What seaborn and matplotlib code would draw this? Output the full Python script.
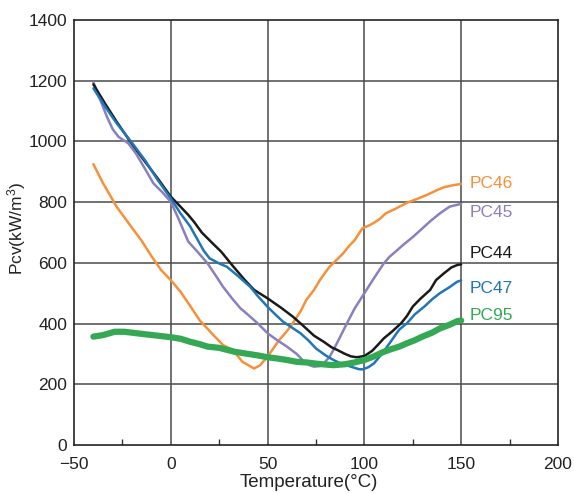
import matplotlib

matplotlib.use("Agg")

import matplotlib.pyplot as plt
import pandas as pd
import seaborn as sns
from matplotlib.ticker import MultipleLocator

# core-loss curves
PC46_T = [-40, -35, -28, -20, -15, -10, -5, 0, 5, 10, 15, 22, 27, 32, 37, 43, 46, 50,
          56, 60, 63, 67, 70, 74, 77, 80, 82, 86, 89, 92, 95, 99, 102, 105, 108, 111,
          116, 122, 127, 132, 137, 141, 146, 150]
PC46_P = [925, 862, 785, 715, 672, 622, 576, 543, 505, 458, 410, 362, 329, 313, 274, 252,
          262, 291, 346, 375, 401, 440, 478, 511, 543, 570, 587, 612, 631, 655, 675, 714,
          722, 732, 745, 763, 778, 798, 810, 823, 838, 849, 856, 860]

PC45_T = [-40, -36, -33, -30, -27, -22, -18, -14, -9, -4, 0, 4, 9, 14, 19, 23, 27, 32,
          36, 39, 45, 50, 55, 60, 65, 69, 72, 74, 77, 79, 82, 84, 87, 91, 95, 100, 105,
          110, 113, 117, 120, 125, 129, 134, 139, 144, 147, 150]
PC45_P = [1195, 1130, 1081, 1040, 1015, 994, 960, 917, 862, 830, 801, 745, 670, 635, 598,
          560, 521, 480, 450, 434, 400, 368, 345, 324, 300, 274, 262, 258, 260, 269, 290,
          313, 350, 401, 450, 500, 550, 598, 620, 642, 659, 685, 708, 737, 763, 785, 790,
          794]

PC44_T = [-40, -34, -28, -21, -14, -7, 0, 5, 9, 12, 16, 21, 26, 32, 38, 43, 50, 57, 63,
          68, 74, 79, 83, 86, 90, 93, 96, 100, 104, 107, 110, 114, 119, 122, 125, 129,
          134, 137, 141, 145, 148, 150]
PC44_P = [1188, 1125, 1065, 1000, 939, 880, 818, 785, 758, 735, 700, 668, 637, 590, 545,
          511, 483, 452, 423, 395, 360, 340, 322, 313, 300, 292, 289, 293, 310, 330, 351,
          372, 401, 425, 456, 482, 511, 543, 565, 585, 593, 595]

PC47_T = [-40, -34, -28, -20, -13, -7, 0, 5, 10, 12, 17, 20, 25, 29, 35, 41, 45, 50, 54,
          58, 63, 67, 71, 75, 80, 84, 88, 93, 97, 99, 102, 105, 109, 113, 118, 122, 126,
          131, 135, 139, 144, 148, 150]
PC47_P = [1175, 1115, 1060, 995, 935, 875, 812, 763, 720, 697, 640, 615, 598, 587, 555,
          521, 490, 455, 430, 406, 385, 368, 345, 318, 295, 280, 268, 258, 250, 249, 256,
          269, 300, 335, 380, 401, 430, 456, 480, 500, 520, 538, 542]

PC95_T = [-40, -35, -29, -24, -15, -8, 0, 5, 10, 15, 19, 25, 33, 40, 45, 50, 55, 60, 65,
          70, 75, 80, 84, 90, 95, 100, 105, 110, 114, 118, 122, 126, 130, 135, 139, 144,
          148, 150]
PC95_P = [357, 362, 373, 373, 366, 361, 355, 350, 340, 332, 324, 320, 307, 300, 295, 289,
          285, 280, 274, 272, 268, 265, 263, 266, 272, 280, 292, 307, 316, 324, 335, 345,
          357, 370, 384, 396, 408, 410]

LABEL_Y = {"PC46": 862, "PC45": 767, "PC44": 632, "PC47": 517, "PC95": 425}

SERIES = [
    ("PC46", PC46_T, PC46_P, "#F5913A", 1.8),
    ("PC45", PC45_T, PC45_P, "#8880C0", 1.8),
    ("PC44", PC44_T, PC44_P, "#1A1A1A", 1.8),
    ("PC47", PC47_T, PC47_P, "#1F76B9", 1.8),
    ("PC95", PC95_T, PC95_P, "#35A853", 4.5),
]


def main() -> None:
    sns.set_theme(style="white")
    plt.rcParams["font.family"] = ["Liberation Sans", "DejaVu Sans"]
    plt.rcParams["mathtext.default"] = "regular"

    fig = plt.figure(figsize=(5.74, 4.93), dpi=100)
    ax = fig.add_axes([0.129, 0.0974, 0.843, 0.862])

    for t in [0, 50, 100, 150]:
        ax.axvline(t, color="#4a4a4a", lw=1.1, zorder=0)
    for p in [200, 400, 600, 800, 1000, 1200]:
        ax.axhline(p, color="#4a4a4a", lw=1.1, zorder=0)

    for name, temps, loss, color, lw in SERIES:
        df = pd.DataFrame({"T": temps, "P": loss})
        sns.lineplot(data=df, x="T", y="P", ax=ax, color=color, lw=lw,
                     sort=False, estimator=None)
        ax.text(154.5, LABEL_Y[name], name, color=color, fontsize=12.5,
                va="center", ha="left")

    ax.set_xlim(-50, 200)
    ax.set_ylim(0, 1400)
    ax.xaxis.set_major_locator(MultipleLocator(50))
    ax.xaxis.set_minor_locator(MultipleLocator(25))
    ax.yaxis.set_major_locator(MultipleLocator(200))
    ax.tick_params(axis="both", which="major", length=0, labelsize=12.5,
                   labelcolor="#222222", pad=5)
    ax.tick_params(axis="x", which="major", pad=9)
    ax.tick_params(axis="x", which="minor", direction="in", length=4,
                   width=1, color="#333333", bottom=True)
    ax.set_xlabel("Temperature(°C)", fontsize=13.5, color="#222222")
    ax.xaxis.set_label_coords(0.485, -0.068)
    ax.set_ylabel("Pcv(kW/m$^3$)", fontsize=12.5, color="#222222")
    ax.yaxis.set_label_coords(-0.096, 0.51)
    for s in ax.spines.values():
        s.set_color("#222222")
        s.set_linewidth(1.2)

    fig.savefig("out.png", dpi=100)
    plt.close(fig)


if __name__ == "__main__":
    main()
